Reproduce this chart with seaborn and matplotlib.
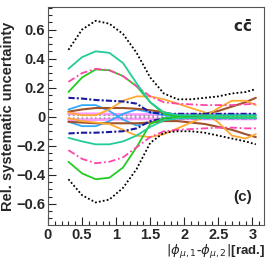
import numpy as np
import pandas as pd
import matplotlib
matplotlib.use("Agg")
import matplotlib.pyplot as plt
import seaborn as sns
from matplotlib.ticker import MultipleLocator

sns.set_style("ticks")
plt.rcParams['font.family'] = ['Liberation Sans', 'DejaVu Sans']

x = [0.3, 0.5, 0.7, 0.9, 1.1, 1.3, 1.5, 1.7, 1.9, 2.1, 2.3, 2.5, 2.7, 2.9, 3.05]

black_up = [0.46, 0.60, 0.66, 0.64, 0.57, 0.44, 0.27, 0.16, 0.12, 0.12, 0.13, 0.14, 0.16, 0.17, 0.19]
black_dn = [-0.43, -0.54, -0.59, -0.57, -0.49, -0.36, -0.18, -0.11, -0.10, -0.10, -0.11, -0.13, -0.15, -0.17, -0.19]
teal_up = [0.33, 0.41, 0.45, 0.44, 0.37, 0.23, 0.10, 0.03, 0.012, 0.01, 0.01, 0.01, 0.01, 0.01, 0.01]
teal_dn = [-0.145, -0.17, -0.19, -0.19, -0.17, -0.13, -0.07, -0.025, -0.012, -0.01, -0.01, -0.01, -0.01, -0.01, -0.01]
pink_up = [0.24, 0.30, 0.33, 0.32, 0.28, 0.21, 0.14, 0.10, 0.09, 0.085, 0.08, 0.08, 0.08, 0.085, 0.09]
pink_dn = [-0.23, -0.29, -0.32, -0.31, -0.28, -0.21, -0.14, -0.10, -0.09, -0.085, -0.08, -0.075, -0.075, -0.08, -0.08]
green_up = [0.17, 0.27, 0.325, 0.32, 0.28, 0.21, 0.10, 0.02, 0.0, -0.003, -0.005, -0.005, -0.005, -0.005, -0.005]
green_dn = [-0.31, -0.39, -0.43, -0.42, -0.35, -0.21, -0.05, -0.01, -0.004, -0.005, -0.005, -0.005, -0.005, -0.005, -0.005]
navy_up = [0.13, 0.125, 0.115, 0.11, 0.105, 0.09, 0.03, 0.02, 0.02, 0.02, 0.02, 0.02, 0.02, 0.02, 0.02]
navy_dn = [-0.115, -0.11, -0.11, -0.105, -0.10, -0.08, -0.03, -0.012, -0.01, -0.01, -0.01, -0.01, -0.01, -0.01, -0.01]
blue_a = [0.05, 0.08, 0.08, 0.04, -0.02, -0.06, -0.04, -0.01, 0.0, 0.0, 0.005, 0.01, 0.01, 0.01, 0.01]
blue_b = [-0.035, -0.065, -0.065, -0.03, 0.02, 0.05, 0.03, 0.01, 0.0, 0.0, -0.005, -0.01, -0.01, -0.01, -0.01]
orange_a = [0.03, 0.01, 0.01, 0.05, 0.11, 0.14, 0.14, 0.12, 0.09, 0.06, 0.03, -0.04, -0.13, -0.15, -0.12]
orange_b = [-0.01, -0.03, -0.04, -0.05, -0.09, -0.13, -0.14, -0.12, -0.08, -0.04, 0.0, 0.06, 0.11, 0.11, 0.08]
brown_a = [0.035, 0.05, 0.06, 0.06, 0.06, 0.055, 0.045, 0.03, 0.01, 0.0, 0.02, 0.04, 0.07, 0.10, 0.13]
brown_b = [-0.035, -0.04, -0.045, -0.045, -0.045, -0.045, -0.04, -0.03, -0.03, -0.04, -0.05, -0.07, -0.09, -0.12, -0.14]
violet_a = [0.02, 0.02, 0.02, 0.018, 0.016, 0.015, 0.015, 0.015, 0.015, 0.015, 0.015, 0.015, 0.015, 0.015, 0.015]
violet_b = [-0.02, -0.02, -0.02, -0.018, -0.016, -0.015, -0.015, -0.015, -0.015, -0.015, -0.015, -0.015, -0.015, -0.015, -0.015]
grey_a = [0.01, 0.01, 0.01, 0.01, 0.008, 0.006, 0.005, 0.005, 0.005, 0.005, 0.005, 0.005, 0.005, 0.005, 0.005]
grey_b = [-0.01, -0.01, -0.01, -0.01, -0.008, -0.006, -0.005, -0.005, -0.005, -0.005, -0.005, -0.005, -0.005, -0.005, -0.005]

xticks = [0, 0.5, 1, 1.5, 2, 2.5, 3]
xticklabels = ["0", "0.5", "1", "1.5", "2", "2.5", "3"]
yticks = [-0.6, -0.4, -0.2, 0, 0.2, 0.4, 0.6]
yticklabels = ["\u22120.6", "\u22120.4", "\u22120.2", "0", "0.2", "0.4", "0.6"]

series = [
    (violet_a, "#ff99ff", "-", 2.0),
    (violet_b, "#ff99ff", "-", 2.0),
    (grey_a, "#999999", ":", 1.2),
    (grey_b, "#999999", ":", 1.2),
    (blue_a, "#33aaff", "-", 1.3),
    (blue_b, "#33aaff", "-", 1.3),
    (brown_a, "#a0522d", "-", 1.5),
    (brown_b, "#a0522d", "-", 1.5),
    (orange_a, "#ffaa33", "-", 1.3),
    (orange_b, "#ffaa33", "-", 1.3),
    (navy_up, "#1a1aa0", (0, (3, 1, 1, 1)), 1.5),
    (navy_dn, "#1a1aa0", (0, (3, 1, 1, 1)), 1.5),
    (green_up, "#22cc22", "-", 1.3),
    (green_dn, "#22cc22", "-", 1.3),
    (pink_up, "#ff44aa", (0, (4, 1.5, 1, 1.5)), 1.3),
    (pink_dn, "#ff44aa", (0, (4, 1.5, 1, 1.5)), 1.3),
    (teal_up, "#22cc99", "-", 1.3),
    (teal_dn, "#22cc99", "-", 1.3),
    (black_up, "#000000", (0, (1, 1.2)), 1.3),
    (black_dn, "#000000", (0, (1, 1.2)), 1.3),
]

fig = plt.figure(figsize=(2.70, 2.62), dpi=100)
ax = fig.add_axes([48/270, 1-225/262, (264-48)/270, (225-7)/262])

for vals, col, ls, lw in series:
    df = pd.DataFrame({"x": x, "y": vals})
    sns.lineplot(data=df, x="x", y="y", ax=ax, color=col, linestyle=ls, linewidth=lw, sort=False)

ax.set_xlim(0, 3.17)
ax.set_ylim(-0.745, 0.755)
ax.set_xticks(xticks)
ax.set_xticklabels(xticklabels, fontweight="bold", fontsize=10.5)
ax.set_yticks(yticks)
ax.set_yticklabels(yticklabels, fontweight="bold", fontsize=10.5)
ax.xaxis.set_minor_locator(MultipleLocator(0.1))
ax.yaxis.set_minor_locator(MultipleLocator(0.05))
ax.tick_params(which="major", direction="in", length=6, width=0.8, pad=2)
ax.tick_params(which="minor", direction="in", length=3, width=0.8)
for s in ax.spines.values():
    s.set_linewidth(0.8)
    s.set_color("#555555")

ax.set_xlabel("")
ax.set_ylabel("Rel. systematic uncertainty", fontweight="bold", fontsize=10.5, labelpad=1)
fig.text(265/270, 1/262, r"$|\phi_{\mu,1}$-$\phi_{\mu,2}|$[rad.]", ha="right", va="bottom",
         fontsize=9.5, fontweight="bold")
ax.text(0.90, 0.91, r"$\mathbf{c\bar{c}}$", transform=ax.transAxes, ha="center", va="center", fontsize=11)
ax.text(0.90, 0.13, "(c)", transform=ax.transAxes, ha="center", va="center", fontsize=11, fontweight="bold")

fig.savefig("out.png", dpi=100)
